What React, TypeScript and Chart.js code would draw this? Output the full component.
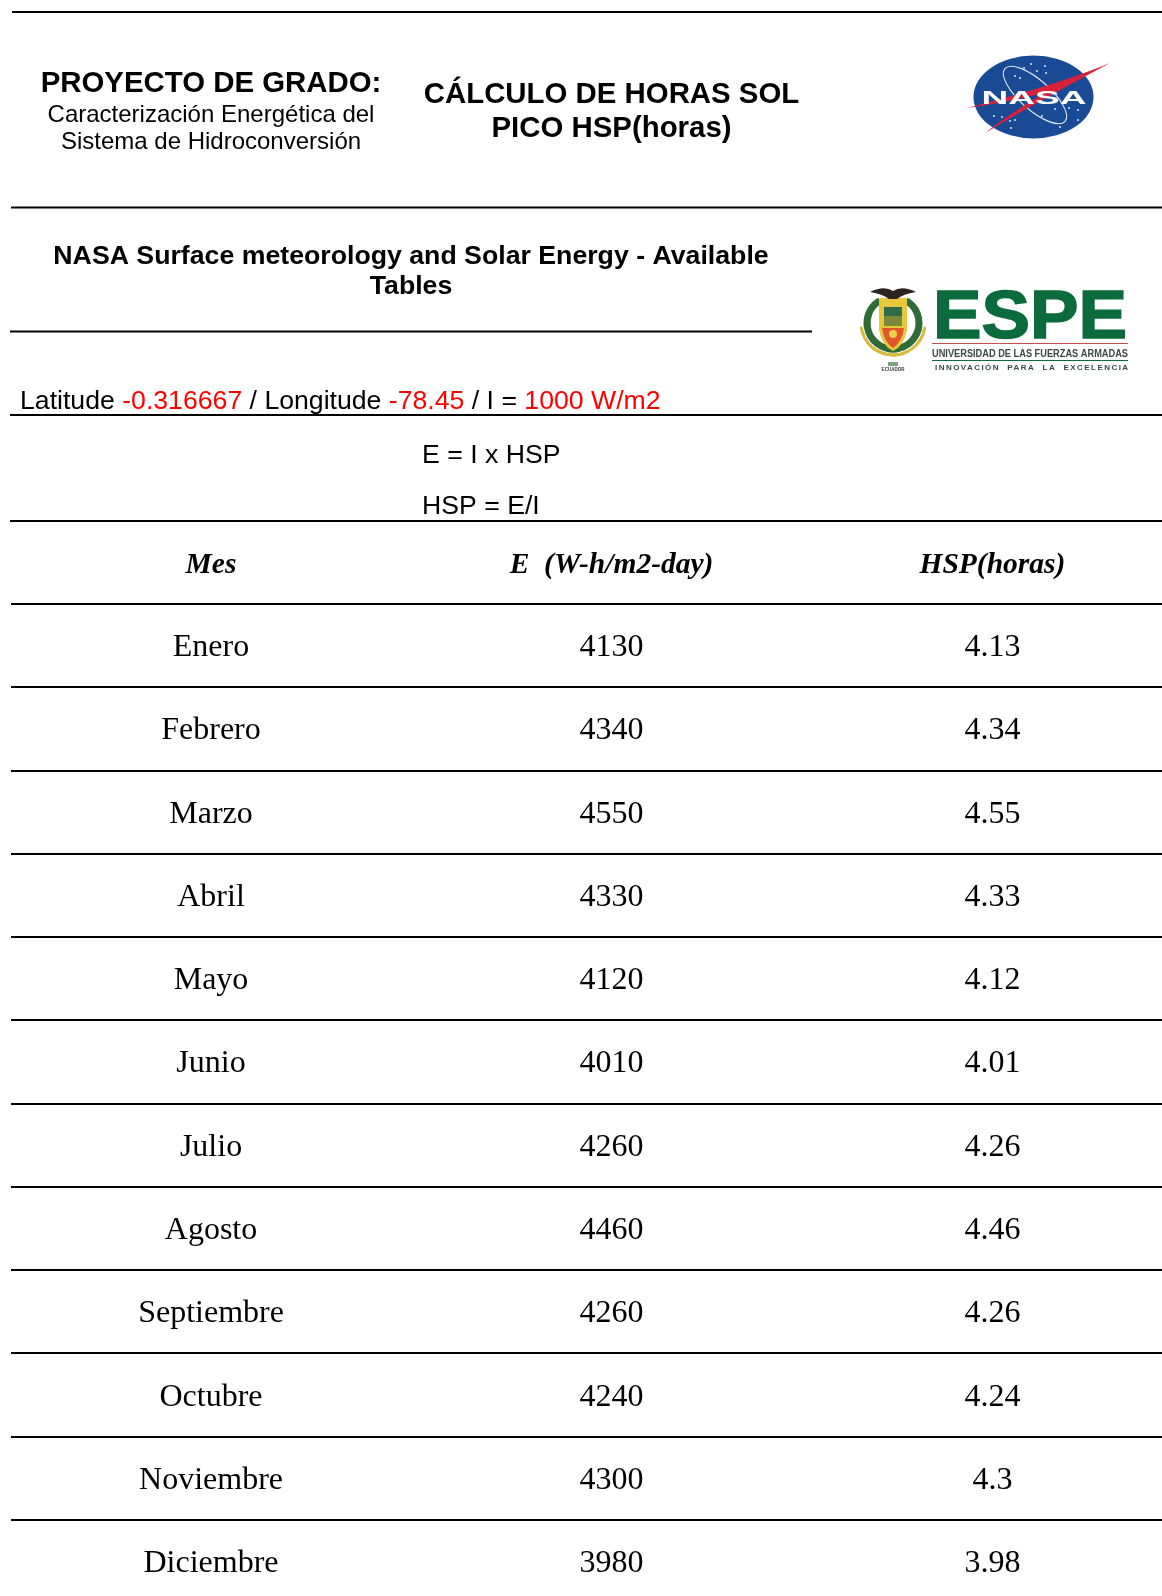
import React, { useEffect, useRef } from "react";
import { Chart, registerables } from "chart.js";

Chart.register(...registerables);

const months = ["Enero", "Febrero", "Marzo", "Abril", "Mayo", "Junio", "Julio", "Agosto", "Septiembre", "Octubre", "Noviembre", "Diciembre"];
const energy = [4130, 4340, 4550, 4330, 4120, 4010, 4260, 4460, 4260, 4240, 4300, 3980];
const hsp = [4.13, 4.34, 4.55, 4.33, 4.12, 4.01, 4.26, 4.46, 4.26, 4.24, 4.3, 3.98];
const headers = ["Mes", "E  (W-h/m2-day)", "HSP(horas)"];
const columns = [0, 1, 1.951];

const SANS = '"Liberation Sans", Arial, sans-serif';
const SERIF = '"Liberation Serif", "Times New Roman", serif';

type Ctx = CanvasRenderingContext2D;

function text(ctx: Ctx, s: string, x: number, y: number, font: string, color = "#000", align: CanvasTextAlign = "center") {
  ctx.font = font;
  ctx.fillStyle = color;
  ctx.textAlign = align;
  ctx.textBaseline = "alphabetic";
  ctx.fillText(s, x, y);
}

function rule(ctx: Ctx, x1: number, x2: number, y: number) {
  ctx.fillStyle = "#000";
  ctx.fillRect(x1, y - 1, x2 - x1, 2);
}

function runs(ctx: Ctx, parts: [string, string][], x: number, y: number, font: string) {
  ctx.font = font;
  ctx.textAlign = "left";
  ctx.textBaseline = "alphabetic";
  let cx = x;
  for (const [s, c] of parts) {
    ctx.fillStyle = c;
    ctx.fillText(s, cx, y);
    cx += ctx.measureText(s).width;
  }
}

function nasaLogo(ctx: Ctx) {
  ctx.save();
  ctx.filter = "blur(0.6px)";
  const cx = 1033.5, cy = 97;
  ctx.fillStyle = "#1a4a96";
  ctx.beginPath();
  ctx.ellipse(cx, cy, 60, 41.5, 0, 0, Math.PI * 2);
  ctx.fill();
  // stars
  ctx.fillStyle = "#cfdcf0";
  const stars = [[1031, 64], [1045, 66], [1024, 68], [1037, 71], [1046, 73], [1015, 76], [1020, 78], [1002, 117], [994, 116], [1010, 121], [1015, 120], [1055, 109], [1078, 110], [1069, 108], [1078, 120], [1011, 128], [1042, 116], [1060, 127]];
  for (const [x, y] of stars) {
    ctx.beginPath();
    ctx.arc(x, y, 1.1, 0, Math.PI * 2);
    ctx.fill();
  }
  // orbit
  ctx.strokeStyle = "#dfe6f2";
  ctx.lineWidth = 1.1;
  ctx.beginPath();
  ctx.ellipse(1035, 95, 40, 15, 0.72, 0, Math.PI * 2);
  ctx.stroke();
  // swoosh
  ctx.fillStyle = "#d8213a";
  ctx.beginPath();
  ctx.moveTo(1110, 63);
  ctx.quadraticCurveTo(1060, 84, 967, 108);
  ctx.quadraticCurveTo(1015, 101, 1046, 92);
  ctx.quadraticCurveTo(1012, 112, 985, 133);
  ctx.quadraticCurveTo(1042, 99, 1110, 63);
  ctx.fill();
  // letters
  ctx.save();
  ctx.font = `900 18px ${SANS}`;
  const w = ctx.measureText("NASA").width;
  ctx.translate(1034, 104);
  ctx.scale(105 / w, 1);
  text(ctx, "NASA", 0, 0, `bold 18px ${SANS}`, "#fff");
  ctx.restore();
  ctx.restore();
}

function espeLogo(ctx: Ctx) {
  ctx.save();
  ctx.filter = "blur(0.5px)";
  const green = "#0b6b3c";
  // crest
  ctx.lineCap = "round";
  ctx.strokeStyle = "#2f6b36";
  ctx.lineWidth = 7;
  ctx.beginPath();
  ctx.arc(893, 323, 26, Math.PI * 0.45, Math.PI * 1.3);
  ctx.stroke();
  ctx.beginPath();
  ctx.arc(893, 323, 26, Math.PI * 1.7, Math.PI * 0.55 + Math.PI * 2);
  ctx.stroke();
  ctx.strokeStyle = "#d8b93a";
  ctx.lineWidth = 3;
  ctx.beginPath();
  ctx.arc(893, 323, 32, Math.PI * 0.35, Math.PI * 0.95);
  ctx.stroke();
  ctx.beginPath();
  ctx.arc(893, 323, 32, Math.PI * 0.05, Math.PI * 0.65);
  ctx.stroke();
  ctx.fillStyle = "#e8c83a";
  ctx.beginPath();
  ctx.moveTo(879, 298);
  ctx.lineTo(907, 298);
  ctx.lineTo(907, 330);
  ctx.quadraticCurveTo(904, 346, 893, 351);
  ctx.quadraticCurveTo(882, 346, 879, 330);
  ctx.closePath();
  ctx.fill();
  ctx.fillStyle = "#2f6b4a";
  ctx.fillRect(884, 307, 18, 9);
  ctx.fillStyle = "#7a8a3a";
  ctx.fillRect(884, 316, 18, 10);
  ctx.fillStyle = "#e2562a";
  ctx.beginPath();
  ctx.moveTo(882, 328);
  ctx.lineTo(904, 328);
  ctx.quadraticCurveTo(902, 342, 893, 348);
  ctx.quadraticCurveTo(884, 342, 882, 328);
  ctx.fill();
  ctx.fillStyle = "#f0d050";
  ctx.beginPath();
  ctx.arc(893, 334, 4, 0, Math.PI * 2);
  ctx.fill();
  // condor
  ctx.fillStyle = "#2b2320";
  ctx.beginPath();
  ctx.moveTo(870, 292);
  ctx.quadraticCurveTo(884, 285, 893, 291);
  ctx.quadraticCurveTo(902, 285, 916, 292);
  ctx.quadraticCurveTo(903, 294, 897, 299);
  ctx.lineTo(889, 299);
  ctx.quadraticCurveTo(883, 294, 870, 292);
  ctx.fill();
  text(ctx, "ECUADOR", 893, 371, `bold 4.5px ${SANS}`, "#333");
  ctx.fillStyle = "#7fa37f";
  ctx.fillRect(888, 362, 10, 4);
  // wordmark
  ctx.save();
  ctx.font = `bold 70px ${SANS}`;
  const w = ctx.measureText("ESPE").width;
  ctx.translate(933, 338);
  ctx.scale(194 / w, 0.99);
  text(ctx, "ESPE", 0, 0, `bold 70px ${SANS}`, green, "left");
  ctx.strokeStyle = green;
  ctx.lineWidth = 1.6;
  ctx.strokeText("ESPE", 0, 0);
  ctx.restore();
  ctx.fillStyle = "#c8504a";
  ctx.fillRect(932, 343, 196, 1);
  ctx.save();
  ctx.font = `bold 11px ${SANS}`;
  const u = ctx.measureText("UNIVERSIDAD DE LAS FUERZAS ARMADAS").width;
  ctx.translate(932, 357);
  ctx.scale(196 / u, 1);
  text(ctx, "UNIVERSIDAD DE LAS FUERZAS ARMADAS", 0, 0, `bold 11px ${SANS}`, "#3c4a44", "left");
  ctx.restore();
  ctx.fillStyle = green;
  ctx.fillRect(932, 360, 196, 1);
  ctx.save();
  (ctx as any).letterSpacing = "1.45px";
  text(ctx, "INNOVACIÓN  PARA  LA  EXCELENCIA", 935, 370, `bold 8px ${SANS}`, "#3c4a44", "left");
  ctx.restore();
  ctx.restore();
}

const sheetPlugin = {
  id: "sheet",
  beforeDraw(chart: any) {
    const ctx: Ctx = chart.ctx;
    ctx.save();
    ctx.fillStyle = "#fff";
    ctx.fillRect(0, 0, chart.width, chart.height);
    rule(ctx, 12, 1162, 12);
    rule(ctx, 11, 1162, 207.5);
    rule(ctx, 10, 812, 331.5);
    rule(ctx, 10, 1162, 415);
    rule(ctx, 10, 1162, 521);

    text(ctx, "PROYECTO DE GRADO:", 211, 92, `bold 29.4px ${SANS}`);
    text(ctx, "Caracterización Energética del", 211, 122, `24px ${SANS}`);
    text(ctx, "Sistema de Hidroconversión", 211, 149, `24px ${SANS}`);
    text(ctx, "CÁLCULO DE HORAS SOL", 611.5, 103, `bold 29.4px ${SANS}`);
    text(ctx, "PICO HSP(horas)", 611.5, 137, `bold 29.4px ${SANS}`);
    text(ctx, "NASA Surface meteorology and Solar Energy - Available", 411, 264, `bold 26.7px ${SANS}`);
    text(ctx, "Tables", 411, 294, `bold 26.7px ${SANS}`);
    runs(ctx, [
      ["Latitude ", "#000"], ["-0.316667", "#ff0000"], [" / Longitude ", "#000"], ["-78.45", "#ff0000"], [" / I = ", "#000"], ["1000 W/m2", "#ff0000"],
    ], 20, 409, `26.65px ${SANS}`);
    text(ctx, "E = I x HSP", 422, 463, `26.65px ${SANS}`, "#000", "left");
    text(ctx, "HSP = E/I", 422, 514, `26.65px ${SANS}`, "#000", "left");
    nasaLogo(ctx);
    espeLogo(ctx);
    ctx.restore();
  },
  afterDatasetsDraw(chart: any) {
    const ctx: Ctx = chart.ctx;
    ctx.save();
    chart.data.datasets.forEach((ds: any, d: number) => {
      chart.getDatasetMeta(d).data.forEach((el: any, i: number) => {
        ctx.font = `32px ${SERIF}`;
        ctx.fillStyle = "#000";
        ctx.textAlign = "center";
        ctx.textBaseline = "alphabetic";
        ctx.fillText(String(ds.cellTexts[i]), el.x, el.y + 10.5);
      });
    });
    ctx.restore();
  },
};

export default function App() {
  const ref = useRef<HTMLCanvasElement>(null);
  useEffect(() => {
    const cols: (string | number)[][] = [months, energy, hsp];
    const chart = new Chart(ref.current!, {
      type: "scatter",
      data: {
        datasets: cols.map((vals, c) => ({
          label: headers[c],
          cellTexts: vals,
          data: vals.map((_, i) => ({ x: columns[c], y: i })),
          pointRadius: 0,
          showLine: false,
        })) as any,
      },
      options: {
        animation: false,
        responsive: false,
        devicePixelRatio: 1,
        layout: { padding: { left: 11, right: 0, top: 521, bottom: 0 } },
        plugins: { legend: { display: false }, tooltip: { enabled: false } },
        scales: {
          x: {
            type: "linear",
            position: "top",
            min: -0.4994,
            max: 2.3745,
            border: { display: false },
            grid: { display: false, drawTicks: false },
            afterBuildTicks: (s: any) => { s.ticks = columns.map((value) => ({ value })); },
            afterFit: (s: any) => { s.height = 83; s.paddingLeft = 0; s.paddingRight = 0; },
            ticks: {
              autoSkip: false,
              maxRotation: 0,
              padding: 21,
              color: "#000",
              font: { family: SERIF, size: 29.5, weight: "bold", style: "italic" },
              callback: (v: any) => headers[columns.indexOf(v)] ?? "",
            },
          },
          y: {
            type: "linear",
            reverse: true,
            min: -0.5,
            max: 11.413,
            border: { display: false },
            grid: { color: "#000", lineWidth: 2, drawTicks: false },
            afterBuildTicks: (s: any) => { s.ticks = months.map((_, i) => ({ value: i - 0.5 })); },
            afterFit: (s: any) => { s.width = 0; },
            ticks: { display: false },
          },
        },
      } as any,
      plugins: [sheetPlugin],
    });
    return () => chart.destroy();
  }, []);
  return <canvas ref={ref} width={1162} height={1596} style={{ position: "absolute", left: 0, top: 0, display: "block" }} />;
}
